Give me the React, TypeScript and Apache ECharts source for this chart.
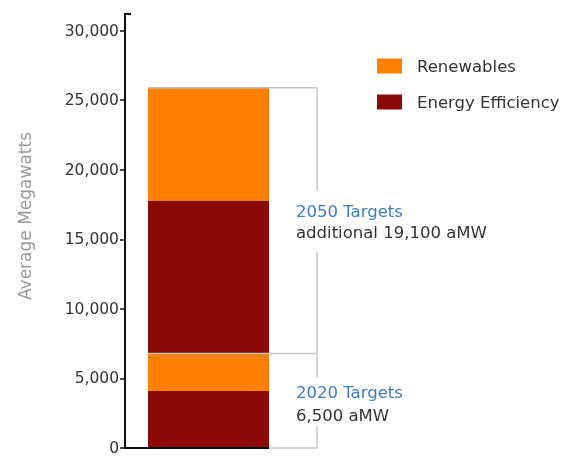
import React, { useEffect, useRef } from 'react';
import * as echarts from 'echarts';

const categories = ['Targets'];
const seriesNames = ['Renewables', 'Energy Efficiency'];
const efficiency2020 = [4100];
const renewables2020 = [2700];
const efficiency2050 = [11000];
const renewables2050 = [8100];
const yTicks = [0, 5000, 10000, 15000, 20000, 25000, 30000];
const axisTop = 31200;
const yAxisTitle = 'Average Megawatts';
const targetTitles = ['2050 Targets', '2020 Targets'];
const targetDetails = ['additional 19,100 aMW', '6,500 aMW'];

const ORANGE = '#FF8000';
const DARK_RED = '#8A0A08';
const GRAY = '#c4c4c4';
const BLUE = '#3f7cc4';
const TEXT = '#333333';
const FONT = '"DejaVu Sans", Verdana, sans-serif';
const BAR_WIDTH = 121;

export default function App() {
  const ref = useRef<HTMLDivElement>(null);

  useEffect(() => {
    if (!ref.current) return;
    const chart = echarts.init(ref.current, null, { renderer: 'svg' });

    const option: any = {
      animation: false,
      grid: { left: 125, top: 14, bottom: 5, width: 167 },
      legend: {
        data: seriesNames,
        orient: 'vertical',
        left: 372,
        top: 49,
        icon: 'rect',
        itemWidth: 25,
        itemHeight: 15,
        itemGap: 12,
        textStyle: {
          fontFamily: FONT,
          fontSize: 16.5,
          color: TEXT,
          lineHeight: 16,
          padding: [8, 0, 0, 10],
        },
      },
      xAxis: {
        type: 'category',
        data: categories,
        axisLine: { show: false },
        axisTick: { show: false },
        axisLabel: { show: false },
      },
      yAxis: {
        type: 'value',
        min: 0,
        max: axisTop,
        splitLine: { show: false },
        axisLine: { show: true, lineStyle: { color: '#111', width: 2 } },
        axisTick: { show: true, length: 5, customValues: yTicks, lineStyle: { color: '#111', width: 1.5 } },
        axisLabel: {
          customValues: yTicks,
          fontFamily: FONT,
          fontSize: 15.5,
          color: TEXT,
          margin: 6,
          formatter: (v: number) => v.toLocaleString('en-US'),
        },
      },
      series: [
        { name: seriesNames[1], type: 'bar', stack: 'total', barWidth: BAR_WIDTH, data: efficiency2020, itemStyle: { color: DARK_RED } },
        { name: seriesNames[0], type: 'bar', stack: 'total', barWidth: BAR_WIDTH, data: renewables2020, itemStyle: { color: ORANGE } },
        { name: seriesNames[1], type: 'bar', stack: 'total', barWidth: BAR_WIDTH, data: efficiency2050, itemStyle: { color: DARK_RED } },
        { name: seriesNames[0], type: 'bar', stack: 'total', barWidth: BAR_WIDTH, data: renewables2050, itemStyle: { color: ORANGE } },
      ],
    };
    chart.setOption(option);

    const total2020 = efficiency2020[0] + renewables2020[0];
    const total2050 = total2020 + efficiency2050[0] + renewables2050[0];
    const yPx = (v: number) => chart.convertToPixel({ yAxisIndex: 0 }, v) as number;
    const xc = chart.convertToPixel({ xAxisIndex: 0 }, categories[0]) as number;
    const axisX = 125;
    const barLeft = xc - BAR_WIDTH / 2;
    const barRight = xc + BAR_WIDTH / 2;
    const bracketX = barRight + 48;
    const textX = barRight + 27;
    const y0 = yPx(0);
    const yTop = yPx(axisTop);
    const y2020 = yPx(total2020);
    const y2050 = yPx(total2050);
    const mid2050 = (y2020 + y2050) / 2;
    const mid2020 = (y0 + y2020) / 2;

    const grayLine = (x1: number, y1: number, x2: number, y2: number) => ({
      type: 'line',
      z: 100,
      shape: { x1, y1, x2, y2 },
      style: { stroke: GRAY, lineWidth: 1.5 },
    });
    const txt = (x: number, y: number, text: string, fill: string) => ({
      type: 'text',
      z: 100,
      x,
      y,
      style: { text, fill, font: `16.5px ${FONT}`, align: 'left', verticalAlign: 'middle' },
    });

    chart.setOption({
      graphic: [
        { type: 'line', z: 100, shape: { x1: axisX - 1, y1: yTop, x2: axisX + 6, y2: yTop }, style: { stroke: '#111', lineWidth: 2 } },
        { type: 'line', z: 100, shape: { x1: axisX - 1, y1: y0, x2: barRight, y2: y0 }, style: { stroke: '#111', lineWidth: 2 } },
        grayLine(barRight, y0, bracketX, y0),
        grayLine(barLeft, y2050, bracketX, y2050),
        grayLine(barLeft, y2020, bracketX, y2020),
        grayLine(bracketX, y2050, bracketX, mid2050 - 30),
        grayLine(bracketX, mid2050 + 31, bracketX, y2020),
        grayLine(bracketX, y2020, bracketX, mid2020 - 23),
        grayLine(bracketX, mid2020 + 25, bracketX, y0),
        txt(textX, mid2050 - 9, targetTitles[0], BLUE),
        txt(textX, mid2050 + 12, targetDetails[0], TEXT),
        txt(textX, mid2020 - 8, targetTitles[1], BLUE),
        txt(textX, mid2020 + 15, targetDetails[1], TEXT),
        {
          type: 'text',
          x: 25,
          y: 216,
          rotation: Math.PI / 2,
          style: { text: yAxisTitle, fill: '#999', font: `17px ${FONT}`, align: 'center', verticalAlign: 'middle' },
        },
      ],
    });

    return () => chart.dispose();
  }, []);

  return <div ref={ref} style={{ position: 'fixed', left: 0, top: 0, width: 567, height: 456 }} />;
}
